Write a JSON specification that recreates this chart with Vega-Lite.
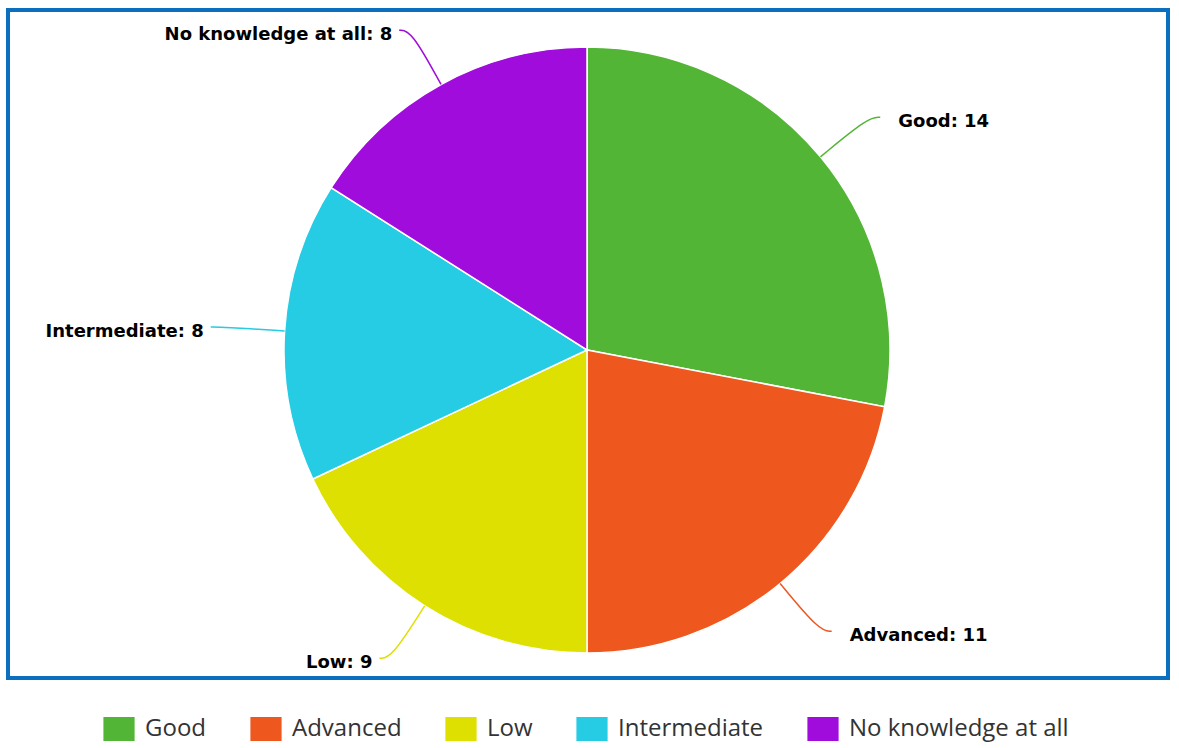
{
  "$schema": "https://vega.github.io/schema/vega-lite/v6.json",
  "width": 1160,
  "height": 668,
  "autosize": {"type": "none"},
  "padding": {"left": 8, "top": 10, "right": 11, "bottom": 70},
  "background": "white",
  "config": {"view": {"stroke": "#0b6fc0", "strokeWidth": 4}},
  "data": {
    "values": [
      {"level": "Good", "count": 14},
      {"level": "Advanced", "count": 11},
      {"level": "Low", "count": 9},
      {"level": "Intermediate", "count": 8},
      {"level": "No knowledge at all", "count": 8}
    ]
  },
  "transform": [
    {"window": [{"op": "row_number", "as": "idx"}]},
    {"window": [{"op": "sum", "field": "count", "as": "cum"}], "frame": [null, 0]},
    {"joinaggregate": [{"op": "sum", "field": "count", "as": "total"}]},
    {"calculate": "2*PI*(datum.cum - datum.count/2)/datum.total", "as": "mid"},
    {"calculate": "sin(datum.mid) >= 0 ? 1 : -1", "as": "side"},
    {"calculate": "365*sin(datum.mid) + 12*datum.side", "as": "lx"},
    {"calculate": "365*cos(datum.mid)", "as": "ly"},
    {"calculate": "datum.lx + (datum.side > 0 ? 18 : -7)", "as": "tx"},
    {"calculate": "datum.level + ': ' + datum.count", "as": "label"}
  ],
  "layer": [
    {
      "mark": {"type": "arc", "outerRadius": 303, "stroke": "white", "strokeWidth": 1.5},
      "encoding": {
        "theta": {"field": "count", "type": "quantitative", "stack": true},
        "order": {"field": "idx", "type": "quantitative"},
        "x": {"datum": 0, "type": "quantitative", "scale": {"domain": [-579, 581], "nice": false, "zero": false}, "axis": null},
        "y": {"datum": 0, "type": "quantitative", "scale": {"domain": [-328, 340], "nice": false, "zero": false}, "axis": null},
        "color": {
          "field": "level",
          "type": "nominal",
          "scale": {
            "domain": ["Good", "Advanced", "Low", "Intermediate", "No knowledge at all"],
            "range": ["#53b535", "#ee571e", "#dde000", "#26cbe4", "#a00cdb"]
          },
          "legend": {
            "orient": "none",
            "legendX": 99,
            "legendY": 707,
            "direction": "horizontal",
            "title": null,
            "symbolType": "M-1.3,-1H1.3V1H-1.3Z",
            "symbolSize": 576,
            "symbolStrokeWidth": 0,
            "symbolOpacity": 1,
            "labelFont": "Open Sans",
            "labelFontSize": 24,
            "labelColor": "#333333",
            "labelOffset": 14,
            "columnPadding": 43,
            "padding": 0,
            "labelLimit": 400
          }
        }
      }
    },
    {
      "transform": [
        {"calculate": "[0,1,2]", "as": "k"},
        {"flatten": ["k"]},
        {"calculate": "datum.k == 0 ? 303*sin(datum.mid) : (datum.k == 1 ? 365*sin(datum.mid) : datum.lx)", "as": "px"},
        {"calculate": "datum.k == 0 ? 303*cos(datum.mid) : (datum.k == 1 ? 365*cos(datum.mid) : datum.ly)", "as": "py"}
      ],
      "mark": {"type": "line", "interpolate": "basis", "strokeWidth": 1.5},
      "encoding": {
        "x": {"field": "px", "type": "quantitative"},
        "y": {"field": "py", "type": "quantitative"},
        "detail": {"field": "level"},
        "order": {"field": "k", "type": "quantitative"},
        "color": {"field": "level", "type": "nominal", "legend": null}
      }
    },
    {
      "mark": {
        "type": "text",
        "font": "DejaVu Sans",
        "fontWeight": "bold",
        "fontSize": 18,
        "color": "#000000",
        "baseline": "middle",
        "dy": 5,
        "align": {"expr": "datum.side > 0 ? 'left' : 'right'"}
      },
      "encoding": {
        "x": {"field": "tx", "type": "quantitative"},
        "y": {"field": "ly", "type": "quantitative"},
        "text": {"field": "label"}
      }
    }
  ]
}
